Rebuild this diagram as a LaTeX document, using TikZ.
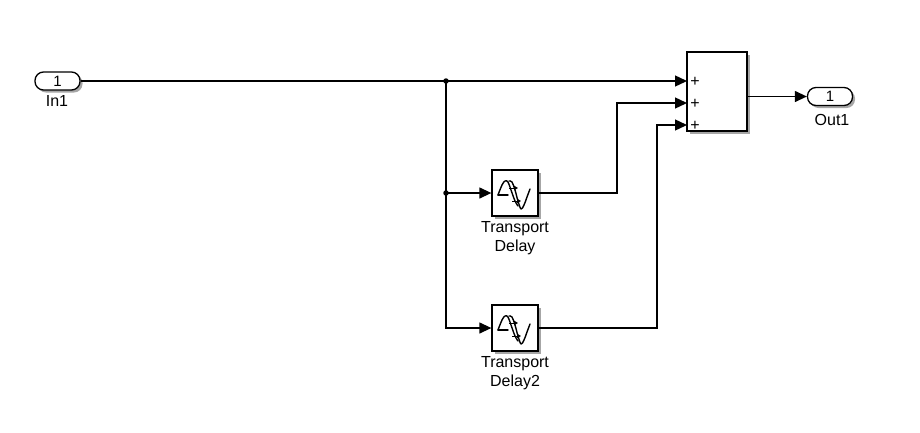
\documentclass[tikz,border=0pt]{standalone}
\usepackage{fontspec}
\setmainfont{Liberation Sans}
\usetikzlibrary{arrows.meta,shadows}
\begin{document}
\begin{tikzpicture}[x=1pt,y=-1pt,
  wire/.style={line width=1.3pt},
  sig/.style={wire,-{Triangle[length=12pt,width=11pt]}},
  shd/.style={drop shadow={shadow xshift=2.5pt,shadow yshift=-2.5pt,fill=black,opacity=0.35}},
  blk/.style={draw,line width=1.3pt,fill=white,inner sep=0pt,shd},
  port/.style={draw,line width=1.3pt,fill=white,rounded corners=8.5pt,minimum width=45pt,minimum height=18pt,inner sep=0pt,font=\fontsize{15}{17}\selectfont,shd},
  lbl/.style={font=\fontsize{16}{19.5}\selectfont,align=center,inner sep=0pt},
  plus/.style={font=\fontsize{16}{18}\selectfont,inner sep=0pt},
  dot/.style={circle,fill,inner sep=0pt,minimum size=5.5pt},
  icon/.style={line width=1.4pt,line join=round,line cap=round}
]
\useasboundingbox (0,0) rectangle (920,432);
\fill[white] (0,0) rectangle (920,432);

% ports
\node[port] (in1) at (57.5,81) {1};
\node[lbl] (in1l) at (57,101) {In1};
\node[port] (out1) at (830,96.5) {1};
\node[lbl] (out1l) at (832,120) {Out1};

% sum
\node[blk,minimum width=60pt,minimum height=79pt] (sum) at (717,91.5) {};
\coordinate (s1) at (687,81);
\coordinate (s2) at (687,103);
\coordinate (s3) at (687,125);
\coordinate (so) at (747,96.5);
\node[plus] (p1) at (695,82) {+};
\node[plus] (p2) at (695,104) {+};
\node[plus] (p3) at (695,126) {+};

% delays
\node[blk,minimum width=46pt,minimum height=46pt] (td1) at (515,193) {};
\node[lbl] (td1l) at (515,238) {Transport\\Delay};
\node[blk,minimum width=46pt,minimum height=46pt] (td2) at (515,328) {};
\node[lbl] (td2l) at (515,373) {Transport\\Delay2};

% icons
\foreach \c in {td1,td2}{
  \begin{scope}[shift={(\c.center)}]
    \draw[icon] (-7,2) -- (-17,2);
    \draw[icon] plot[smooth,tension=0.6] coordinates {(-17,2) (-13,-8) (-10,-12) (-7,-11) (-4,-3) (0,8) (3,13)};
    \draw[icon] plot[smooth,tension=0.6] coordinates {(-6,-12) (-3,-11) (0,-3) (3,8) (6,16) (9,12) (12,4) (15,-4)};
    \draw[line width=1pt,-{Triangle[length=4pt,width=4.5pt]}] (-6,-5) -- (3,-5);
    \draw[line width=1pt,-{Triangle[length=4pt,width=4.5pt]}] (-3,8) -- (6,8);
  \end{scope}
}

% junctions
\coordinate (j1) at (446,81);
\coordinate (j2) at (446,193);
\node[dot] (d1) at (j1) {};
\node[dot] (d2) at (j2) {};

% wires
\draw[sig] (in1.east) -- (s1);
\draw[sig] (j1) -- (j2) -- (td1.west);
\draw[sig] (j2) |- (td2.west);
\draw[sig] (td1.east) -- (617,193) |- (s2);
\draw[sig] (td2.east) -- (657,328) |- (s3);
\draw[sig] (so) -- (out1.west);
\end{tikzpicture}
\end{document}
